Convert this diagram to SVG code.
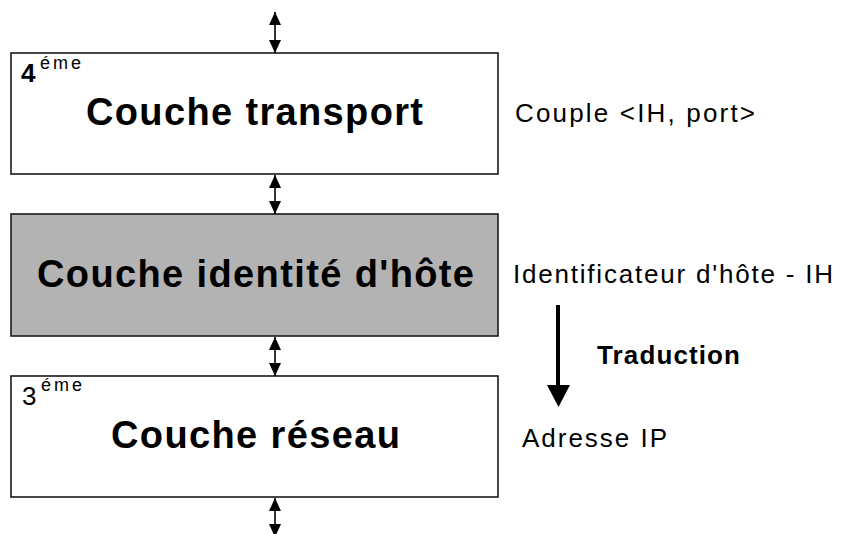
<svg xmlns="http://www.w3.org/2000/svg" width="842" height="534" viewBox="0 0 842 534">
  <defs>
    <style>
      .layer { stroke: #1a1a1a; stroke-width: 1.6; }
      .plain { fill: #ffffff; }
      .shaded { fill: #b3b3b3; }
      .title { font-family: "Liberation Sans", Arial, sans-serif; font-weight: bold; font-size: 38px; fill: #000; }
      .label { font-family: "Liberation Sans", Arial, sans-serif; font-size: 26px; fill: #000; }
      .bold { font-weight: bold; }
      .num { font-family: "Liberation Sans", Arial, sans-serif; font-size: 26px; fill: #000; }
      .sup { font-family: "Liberation Sans", Arial, sans-serif; font-size: 18px; fill: #000; }
      .link { stroke: #000; stroke-width: 1.6; fill: none; marker-start: url(#tip); marker-end: url(#tip); }
    </style>
    <marker id="tip" markerUnits="userSpaceOnUse" markerWidth="13" markerHeight="13" viewBox="0 0 13 13" refX="13" refY="6.5" orient="auto-start-reverse">
      <path d="M0,0.5 L13,6.5 L0,12.5 Z" fill="#000"/>
    </marker>
  </defs>

  <rect width="842" height="534" fill="#ffffff"/>

  <!-- Layer 4: transport -->
  <g id="transport">
    <rect class="layer plain" x="11" y="53" width="487" height="121"/>
    <text x="21" y="82" class="num bold">4</text>
    <text x="40" y="69" class="sup" textLength="41" lengthAdjust="spacing">éme</text>
    <text x="86" y="125" class="title" textLength="337" lengthAdjust="spacing">Couche transport</text>
  </g>

  <!-- Host identity layer -->
  <g id="identite">
    <rect class="layer shaded" x="11" y="214" width="487" height="122"/>
    <text x="37" y="287" class="title" textLength="437" lengthAdjust="spacing">Couche identité d'hôte</text>
  </g>

  <!-- Layer 3: network -->
  <g id="reseau">
    <rect class="layer plain" x="11" y="376" width="487" height="121"/>
    <text x="22" y="405" class="num">3</text>
    <text x="41" y="391" class="sup" textLength="41" lengthAdjust="spacing">éme</text>
    <text x="111" y="448" class="title" textLength="289" lengthAdjust="spacing">Couche réseau</text>
  </g>

  <!-- Side labels -->
  <g id="labels">
    <text x="515" y="122" class="label" textLength="240" lengthAdjust="spacing">Couple &lt;IH, port&gt;</text>
    <text x="513" y="283" class="label" textLength="320" lengthAdjust="spacing">Identificateur d'hôte - IH</text>
    <text x="597" y="364" class="label bold" textLength="143" lengthAdjust="spacing">Traduction</text>
    <text x="522" y="447" class="label" textLength="145" lengthAdjust="spacing">Adresse IP</text>
  </g>

  <!-- Connectors -->
  <g id="connectors">
    <line class="link" x1="275" y1="12" x2="275" y2="53"/>
    <line class="link" x1="275" y1="175" x2="275" y2="214"/>
    <line class="link" x1="275" y1="337" x2="275" y2="376"/>
    <line class="link" x1="275" y1="498" x2="275" y2="537"/>
    <!-- translation arrow -->
    <line x1="558" y1="305" x2="558" y2="387" stroke="#000" stroke-width="4"/>
    <path d="M547,385 L570,385 L558.5,407 Z" fill="#000"/>
  </g>
</svg>
